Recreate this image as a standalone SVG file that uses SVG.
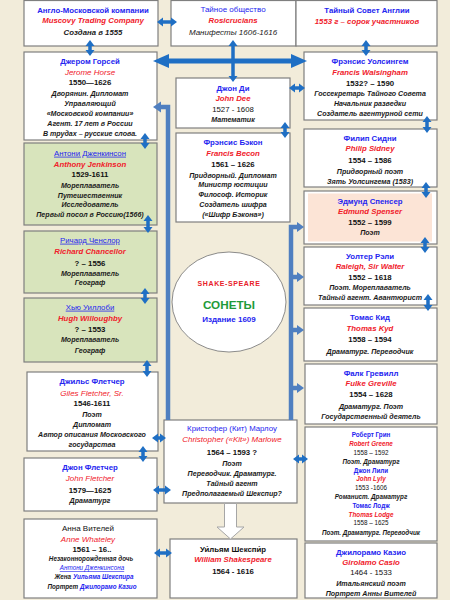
<svg xmlns="http://www.w3.org/2000/svg" width="450" height="600" viewBox="0 0 450 600">
<defs>
<style>
.bx{fill:#fff;stroke:#7f7f7f;stroke-width:1.2}
.gb{fill:#d8e4bc;stroke:#7f7f7f;stroke-width:1.2}
text{font-family:"Liberation Sans",Arial,sans-serif;text-anchor:middle;font-weight:bold}
.n{fill:#2424f0;font-size:7.8px}
.nn{fill:#2424f0;font-size:7.8px;font-weight:normal}
.u{fill:#2424f0;font-size:7.8px;font-weight:normal;text-decoration:underline}
.e{fill:#f0202a;font-size:7.8px;font-style:italic}
.ei{fill:#f0202a;font-size:8px;font-style:italic;font-weight:normal}
.y{fill:#111;font-size:7.8px}
.r{fill:#111;font-size:7.8px;font-weight:normal}
.d{fill:#1a1a1a;font-size:7.1px;font-style:italic}
.m{font-size:7.8px}
.s{font-size:6.3px}
.bar{fill:none;stroke:#4f7fc0;stroke-width:4.5}
.bh{fill:#4f7fc0}
.da{stroke:#1f6fc4;stroke-width:3.5;marker-start:url(#ah);marker-end:url(#ah)}
.big{stroke:#1f6fc4;stroke-width:5;marker-start:url(#bh);marker-end:url(#bh)}
</style>
<marker id="ah" markerUnits="userSpaceOnUse" markerWidth="10" markerHeight="10" viewBox="0 -5 6 10" refX="1" refY="0" orient="auto-start-reverse">
<path d="M0,-4.5 L6,0 L0,4.5 Z" fill="#1f6fc4"/>
</marker>
<marker id="bh" markerUnits="userSpaceOnUse" markerWidth="18" markerHeight="16" viewBox="0 -8 16 16" refX="2" refY="0" orient="auto-start-reverse">
<path d="M0,-7 L16,0 L0,7 Z" fill="#1f6fc4"/>
</marker>
</defs>
<rect width="450" height="600" fill="#f2ecda"/>

<g id="n-anglo">
<rect class="bx" x="24" y="0.5" width="134" height="45.5"/>
<text class="n" x="93" y="12.7">Англо-Московской компании</text>
<text class="e" x="93" y="22.7">Muscovy Trading Company</text>
<text class="d m" x="93" y="34.7">Создана в 1555</text>
</g>
<g id="n-horsey">
<rect class="bx" x="24" y="52" width="133" height="88"/>
<text class="n" x="90" y="63.7">Джером Горсей</text>
<text class="ei" x="90" y="74.7">Jerome Horse</text>
<text class="y" x="90" y="84.7">1550—1626</text>
<text class="d" x="90" y="95.7">Дворянин. Дипломат</text>
<text class="d" x="90" y="105.7">Управляющий</text>
<text class="d" x="90" y="115.7">«Московской компании»</text>
<text class="d" x="90" y="125.7">Агент. 17 лет в России</text>
<text class="d" x="90" y="135.7">В трудах – русские слова.</text>
</g>
<g id="n-jenkinson">
<rect class="gb" x="24" y="143" width="133" height="82"/>
<text class="u" x="90" y="155.7">Антони Дженкинсон</text>
<text class="e" x="90" y="166.7">Anthony Jenkinson</text>
<text class="y" x="90" y="176.7">1529-1611</text>
<text class="d" x="90" y="187.7">Мореплаватель</text>
<text class="d" x="90" y="197.7">Путешественник</text>
<text class="d" x="90" y="206.7">Исследователь</text>
<text class="d" x="90" y="216.7">Первый посол в Россию(1566)</text>
</g>
<g id="n-chancellor">
<rect class="gb" x="24" y="231" width="133" height="62"/>
<text class="u" x="90" y="242.7">Ричард Ченслор</text>
<text class="e" x="90" y="253.7">Richard Chancellor</text>
<text class="y" x="90" y="265.7">? – 1556</text>
<text class="d" x="90" y="275.7">Мореплаватель</text>
<text class="d" x="90" y="284.7">Географ</text>
</g>
<g id="n-willoughby">
<rect class="gb" x="24" y="298" width="133" height="64"/>
<text class="u" x="90" y="309.7">Хью Уиллоби</text>
<text class="e" x="90" y="320.7">Hugh Willoughby</text>
<text class="y" x="90" y="331.7">? – 1553</text>
<text class="d" x="90" y="341.7">Мореплаватель</text>
<text class="d" x="90" y="352.7">Географ</text>
</g>
<g id="n-giles">
<rect class="bx" x="27" y="372" width="131" height="79"/>
<text class="n" x="92" y="383.7">Джильс Флетчер</text>
<text class="ei" x="92" y="395.7">Giles Fletcher, Sr.</text>
<text class="y" x="92" y="405.7">1546-1611</text>
<text class="d" x="92" y="416.7">Поэт</text>
<text class="d" x="92" y="426.7">Дипломат</text>
<text class="d" x="92" y="436.7">Автор описания Московского</text>
<text class="d" x="92" y="446.7">государства</text>
</g>
<g id="n-jfletcher">
<rect class="bx" x="24" y="458" width="133" height="53"/>
<text class="n" x="90" y="469.7">Джон Флетчер</text>
<text class="ei" x="90" y="480.7">John Fletcher</text>
<text class="y" x="90" y="492.7">1579—1625</text>
<text class="d" x="90" y="502.7">Драматург</text>
</g>
<g id="n-anna">
<rect class="bx" x="24" y="519" width="133" height="79"/>
<text x="88" y="530.7" style="fill:#111;font-size:8px;font-weight:normal">Анна Вителей</text>
<text class="ei" x="88" y="541.7">Anne Whateley</text>
<text class="y" x="92" y="551.7">1561 – 16..</text>
<text class="d s" x="91" y="561.3">Незаконнорожденная дочь</text>
<text class="u s" x="92" y="570.3" style="font-style:italic">Антони Дженкинсона</text>
<text class="d s" x="94" y="579.3">Жена <tspan fill="#2424f0">Уильяма Шекспира</tspan></text>
<text class="d s" x="92" y="589.3">Портрет <tspan fill="#2424f0">Джилорамо Казио</tspan></text>
</g>

<g id="n-rosicrucians">
<rect class="bx" x="171" y="0.5" width="125" height="45.5"/>
<text class="nn" x="233" y="11.7" style="font-size:8px">Тайное общество</text>
<text class="e" x="233" y="22.7">Rosicrucians</text>
<text class="d m" x="233" y="34.7" style="font-weight:normal;font-size:8px">Манифесты 1606-1616</text>
</g>
<g id="n-dee">
<rect class="bx" x="176" y="78" width="114" height="50"/>
<text class="n" x="233" y="90.7">Джон Ди</text>
<text class="e" x="233" y="100.7">John Dee</text>
<text class="r" x="233" y="111.7">1527 - 1608</text>
<text class="d" x="233" y="121.7">Математик</text>
</g>
<g id="n-bacon">
<rect class="bx" x="176" y="133" width="114" height="89"/>
<text class="n" x="233" y="144.7">Фрэнсис Бэкон</text>
<text class="e" x="233" y="155.7">Francis Becon</text>
<text class="y" x="233" y="166.7">1561 – 1626</text>
<text class="d" x="233" y="177.7">Придворный. Дипломат</text>
<text class="d" x="233" y="186.7">Министр юстиции</text>
<text class="d" x="233" y="196.7">Философ. Историк</text>
<text class="d" x="233" y="206.7">Создатель шифра</text>
<text class="d" x="233" y="216.7">(«Шифр Бэкона»)</text>
</g>
<g id="n-sonnets">
<ellipse cx="229" cy="302" rx="57" ry="50" fill="#fff" stroke="#6e6e6e" stroke-width="0.8"/>
<text x="229" y="285.5" style="fill:#e8202a;font-size:7px;letter-spacing:0.6px">SHAKE-SPEARE</text>
<text x="229" y="309" style="fill:#1f9a3a;font-size:11.7px">СОНЕТЫ</text>
<text x="229" y="321.8" style="fill:#2424f0;font-size:8px">Издание 1609</text>
</g>
<g id="n-marlowe">
<rect class="bx" x="164" y="420" width="133" height="83"/>
<text class="nn" x="232" y="430.7">Кристофер (Кит) Марлоу</text>
<text class="ei" x="232" y="441.7">Christopher («Kit») Marlowe</text>
<text class="y" x="232" y="454.7">1564 – 1593 ?</text>
<text class="d" x="232" y="465.7">Поэт</text>
<text class="d" x="232" y="475.7">Переводчик. Драматург.</text>
<text class="d" x="232" y="485.7">Тайный агент</text>
<text class="d" x="232" y="495.7">Предполагаемый Шекспир?</text>
</g>
<g id="n-shakespeare">
<rect class="bx" x="170" y="539" width="127" height="59"/>
<text class="y" x="233" y="551.7">Уи́льям Шекспи́р</text>
<text class="e" x="233" y="561.7">William Shakespeare</text>
<text class="y" x="233" y="573.7">1564 - 1616</text>
</g>

<g id="n-council">
<rect class="bx" x="296" y="0.5" width="141" height="45.5"/>
<text class="n" x="367" y="12.7">Тайный Совет Англии</text>
<text class="e" x="367" y="23.7">1553 г – сорок участников</text>
</g>
<g id="n-walsingham">
<rect class="bx" x="304" y="52" width="133" height="68"/>
<text class="n" x="370" y="63.7">Фрэнсис Уолсингем</text>
<text class="e" x="370" y="74.7">Francis Walsingham</text>
<text class="y" x="370" y="85.7">1532? – 1590</text>
<text class="d" x="370" y="95.7">Госсекретарь Тайного Совета</text>
<text class="d" x="370" y="105.7">Начальник разведки</text>
<text class="d" x="370" y="115.7">Создатель агентурной сети</text>
</g>
<g id="n-sidney">
<rect class="bx" x="304" y="129" width="133" height="58"/>
<text class="n" x="370" y="140.7">Филип Сидни</text>
<text class="e" x="370" y="150.7">Philip Sidney</text>
<text class="y" x="370" y="162.7">1554 – 1586</text>
<text class="d" x="370" y="173.7">Придворный поэт</text>
<text class="d" x="370" y="183.7">Зять Уолсингема (1583)</text>
</g>
<g id="n-spenser">
<rect class="bx" x="304" y="191" width="133" height="53"/>
<rect x="308" y="193.5" width="124" height="48" fill="#fce4d6"/>
<text class="n" x="370" y="203.7">Эдмунд Спенсер</text>
<text class="e" x="370" y="213.7">Edmund Spenser</text>
<text class="y" x="370" y="224.7">1552 – 1599</text>
<text class="d" x="370" y="234.7">Поэт</text>
</g>
<g id="n-raleigh">
<rect class="bx" x="304" y="247" width="133" height="58"/>
<text class="n" x="370" y="258.7">Уолтер Рэли</text>
<text class="e" x="370" y="268.7">Raleigh, Sir  Walter</text>
<text class="y" x="370" y="279.7">1552 – 1618</text>
<text class="d" x="370" y="289.7">Поэт. Мореплаватель</text>
<text class="d" x="370" y="299.7">Тайный агент. Авантюрист</text>
</g>
<g id="n-kyd">
<rect class="bx" x="304" y="308" width="133" height="53"/>
<text class="n" x="370" y="319.7">Томас Кид</text>
<text class="e" x="370" y="330.7">Thomas Kyd</text>
<text class="y" x="370" y="341.7">1558 – 1594</text>
<text class="d" x="370" y="353.7">Драматург. Переводчик</text>
</g>
<g id="n-greville">
<rect class="bx" x="305" y="364" width="132" height="60"/>
<text class="n" x="371" y="375.7">Фалк Гревилл</text>
<text class="e" x="371" y="385.7">Fulke Greville</text>
<text class="y" x="371" y="396.7">1554 – 1628</text>
<text class="d" x="371" y="408.7">Драматург. Поэт</text>
<text class="d" x="371" y="418.7">Государственный деятель</text>
</g>
<g id="n-greene">
<rect class="bx" x="305" y="427" width="132" height="114"/>
<text class="n s" x="371" y="437.2">Роберт Грин</text>
<text class="e s" x="371" y="446.2">Robert Greene</text>
<text class="r s" x="371" y="455.2">1558 – 1592</text>
<text class="d s" x="371" y="464.2">Поэт. Драматург</text>
<text class="n s" x="371" y="473.2">Джон Лили</text>
<text class="e s" x="371" y="481.2">John Lyly</text>
<text class="r s" x="371" y="490.2">1553 -1606</text>
<text class="d s" x="371" y="499.2">Романист. Драматург</text>
<text class="n s" x="371" y="508.2">Томас Лодж</text>
<text class="e s" x="371" y="517.2">Thomas Lodge</text>
<text class="r s" x="371" y="525.2">1558 – 1625</text>
<text class="d s" x="371" y="535.2">Поэт. Драматург. Переводчик</text>
</g>
<g id="n-casio">
<rect class="bx" x="305" y="543" width="132" height="55"/>
<text class="n" x="371" y="554.7">Джилорамо Казио</text>
<text class="e" x="371" y="564.7">Girolamo Casio</text>
<text class="r" x="371" y="574.7">1464 - 1533</text>
<text class="d" x="371" y="585.7">Итальянский поэт</text>
<text class="d" x="371" y="595.7">Портрет Анны Вителей</text>
</g>

<g id="connectors">
<path class="bar" d="M160,107 H168 V420"/>
<polygon class="bh" points="153,107 161,101.5 161,112.5"/>
<path class="bar" d="M291,420 V227 H298"/>
<path class="bar" d="M291,277 H298 M291,330 H298 M291,388 H298"/>
<polygon class="bh" points="304,227 297,222 297,232"/>
<polygon class="bh" points="304,277 297,272 297,282"/>
<polygon class="bh" points="304,330 297,325 297,335"/>
<polygon class="bh" points="304,388 297,383 297,393"/>
<line class="big" x1="167" y1="61" x2="293" y2="61"/>
<line class="da" x1="233" y1="45" x2="233" y2="77"/>
<line class="da" x1="90" y1="45" x2="90" y2="51"/>
<line class="da" x1="145" y1="138" x2="145" y2="144"/>
<line class="da" x1="148" y1="220" x2="148" y2="228"/>
<line class="da" x1="145" y1="293" x2="145" y2="299"/>
<line class="da" x1="147" y1="365" x2="147" y2="372"/>
<line class="da" x1="143" y1="451" x2="143" y2="457"/>
<line class="da" x1="366" y1="45" x2="366" y2="51"/>
<line class="da" x1="427" y1="121" x2="427" y2="128"/>
<line class="da" x1="426" y1="187" x2="426" y2="193"/>
<line class="da" x1="425" y1="242" x2="425" y2="248"/>
<line class="da" x1="428" y1="299" x2="428" y2="306"/>
<line class="da" x1="285" y1="127" x2="285" y2="133"/>
<line class="da" x1="162" y1="22" x2="172" y2="22"/>
<line class="da" x1="294" y1="88" x2="300" y2="88"/>
<line class="da" x1="157" y1="438" x2="161" y2="438"/>
<line class="da" x1="158" y1="490" x2="166" y2="490"/>
<line class="da" x1="159" y1="553" x2="167" y2="553"/>
<line class="da" x1="298" y1="459" x2="303" y2="459"/>
<polygon points="224.5,503.5 236.5,503.5 236.5,527 244,527 230.5,539 217,527 224.5,527" fill="#fff" stroke="#a6a6a6" stroke-width="1"/>
</g>
</svg>
